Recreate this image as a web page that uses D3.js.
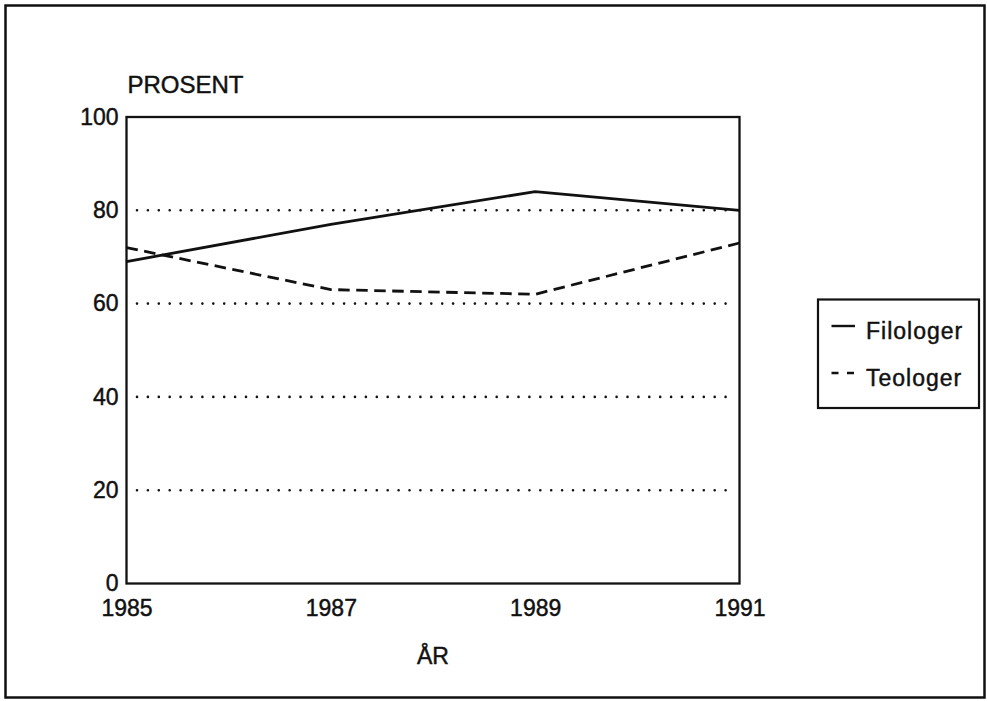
<!DOCTYPE html>
<html>
<head>
<meta charset="utf-8">
<script src="https://cdn.jsdelivr.net/npm/d3@7/dist/d3.min.js"></script>
<style>
  html, body { margin: 0; padding: 0; background: #fff; }
  svg { display: block; }
  text { font-family: "Liberation Sans", Arial, Helvetica, sans-serif; fill: #111; stroke: #111; stroke-width: 0.45px; }
</style>
</head>
<body>
<svg id="chart" width="987" height="701"></svg>
<script>
const years = [1985, 1987, 1989, 1991];
const filologer = [69, 77, 84, 80];
const teologer = [72, 63, 62, 73];
const yTicks = [0, 20, 40, 60, 80, 100];
const gridValues = [20, 40, 60, 80];
const seriesNames = ["Filologer", "Teologer"];
const yLabel = "PROSENT";
const xLabel = "ÅR";

(function () {
const svg = d3.select("#chart");
const ink = "#111";

// outer border
svg.append("rect").attr("x", 5.5).attr("y", 5.5).attr("width", 979).attr("height", 692)
  .attr("fill", "none").attr("stroke", ink).attr("stroke-width", 2.5);

const pL = 126.5, pR = 739.5, pT = 117, pB = 583.5;
const x = d3.scaleLinear().domain([1985, 1991]).range([pL, pR]);
const y = d3.scaleLinear().domain([0, 100]).range([pB, pT]);

// dotted grid
svg.append("g").selectAll("line").data(gridValues).join("line")
  .attr("x1", pL + 10.5).attr("x2", pR - 8)
  .attr("y1", d => y(d)).attr("y2", d => y(d))
  .attr("stroke", ink).attr("stroke-width", 2.6)
  .attr("stroke-linecap", "round").attr("stroke-dasharray", "0 10.9");

// axes
const yAxis = svg.append("g").attr("transform", `translate(${pL},0)`)
  .call(d3.axisLeft(y).tickValues(yTicks).tickSize(0).tickPadding(8).tickFormat(d3.format("d")));
yAxis.select(".domain").remove();
yAxis.selectAll("text").attr("font-size", 23).style("font-family", '"Liberation Sans", Arial, sans-serif').attr("fill", ink);

const xAxis = svg.append("g").attr("transform", `translate(0,${pB})`)
  .call(d3.axisBottom(x).tickValues(years).tickSize(0).tickPadding(16).tickFormat(d3.format("d")));
xAxis.select(".domain").remove();
xAxis.selectAll("text").attr("font-size", 23).style("font-family", '"Liberation Sans", Arial, sans-serif').attr("fill", ink);

// frame
svg.append("rect").attr("x", pL).attr("y", pT).attr("width", pR - pL).attr("height", pB - pT)
  .attr("fill", "none").attr("stroke", ink).attr("stroke-width", 2.3);

// lines
const line = d3.line().x((d, i) => x(years[i])).y(d => y(d));
svg.append("path").datum(filologer).attr("d", line)
  .attr("fill", "none").attr("stroke", ink).attr("stroke-width", 2.8);
svg.append("path").datum(teologer).attr("d", line)
  .attr("fill", "none").attr("stroke", ink).attr("stroke-width", 2.8)
  .attr("stroke-dasharray", "11.5 6.5");

// axis titles
svg.append("text").attr("x", 127.5).attr("y", 92.5).attr("font-size", 24).text(yLabel);
svg.append("text").attr("x", (pL + pR) / 2).attr("y", 663.5).attr("font-size", 23)
  .attr("text-anchor", "middle").text(xLabel);

// legend
svg.append("rect").attr("x", 818).attr("y", 299.5).attr("width", 161).attr("height", 108.5)
  .attr("fill", "none").attr("stroke", ink).attr("stroke-width", 2.2);
const leg = svg.append("g");
const legY = [326, 373];
leg.selectAll("line").data(seriesNames).join("line")
  .attr("x1", 831.5).attr("x2", 855).attr("y1", (d, i) => legY[i]).attr("y2", (d, i) => legY[i])
  .attr("stroke", ink).attr("stroke-width", 2.4)
  .attr("stroke-dasharray", (d, i) => i === 0 ? null : "7 8.5");
leg.selectAll("text").data(seriesNames).join("text")
  .attr("x", 866).attr("y", (d, i) => legY[i] + 12.5).attr("font-size", 23)
  .attr("letter-spacing", 1).text(d => d);
})();
</script>
</body>
</html>
